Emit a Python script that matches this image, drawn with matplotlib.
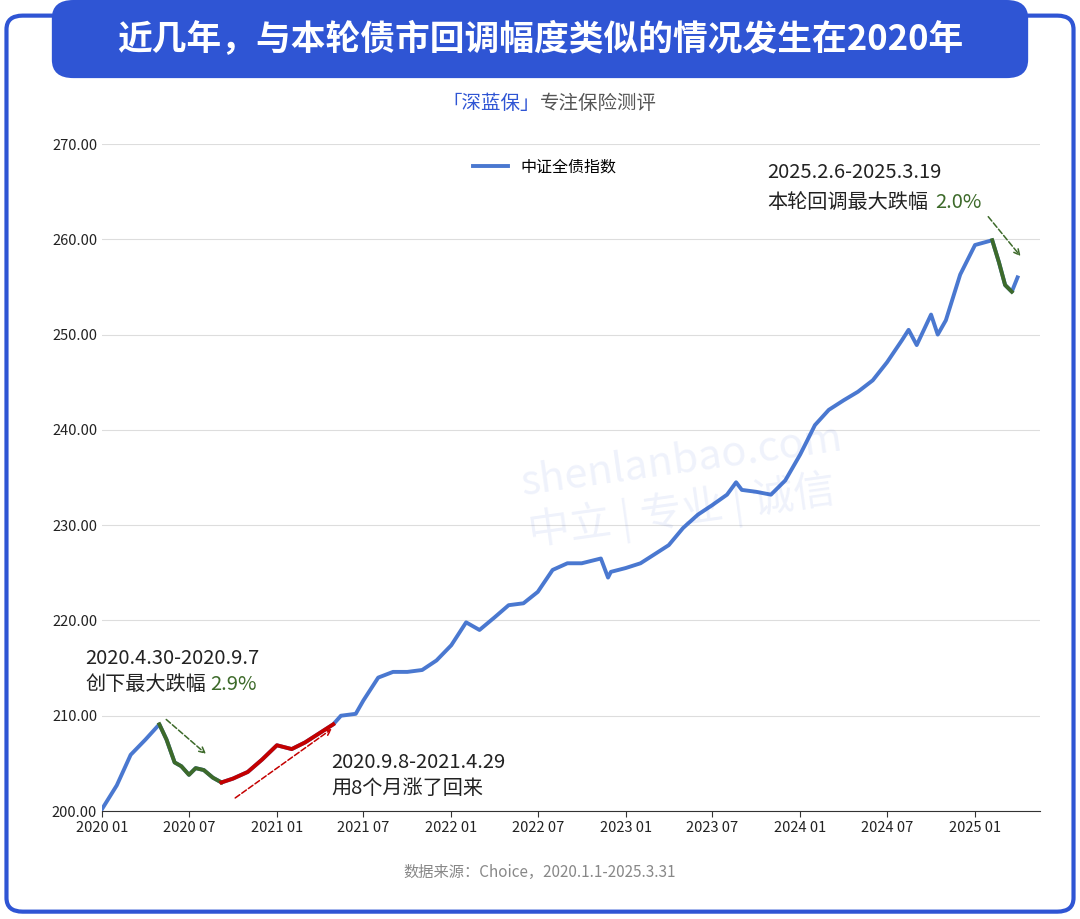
import pandas as pd
import matplotlib.pyplot as plt
import matplotlib.dates as mdates
from matplotlib.patches import FancyBboxPatch

plt.rcParams['font.family'] = 'Noto Sans CJK SC'

# 中证全债指数
dates = ['2020-01-01', '2020-02-01', '2020-03-01', '2020-04-01', '2020-04-30',
         '2020-05-15', '2020-06-01', '2020-06-15', '2020-07-01', '2020-07-15',
         '2020-08-01', '2020-08-20', '2020-09-07', '2020-10-01', '2020-11-01',
         '2020-12-01', '2021-01-01', '2021-02-01', '2021-03-01', '2021-04-29',
         '2021-05-15', '2021-06-15', '2021-07-01', '2021-08-01', '2021-09-01',
         '2021-10-01', '2021-11-01', '2021-12-01', '2022-01-01', '2022-02-01',
         '2022-03-01', '2022-04-01', '2022-05-01', '2022-06-01', '2022-07-01',
         '2022-08-01', '2022-09-01', '2022-10-01', '2022-11-10', '2022-11-25',
         '2022-12-01', '2023-01-01', '2023-02-01', '2023-03-01', '2023-04-01',
         '2023-05-01', '2023-06-01', '2023-07-01', '2023-08-01', '2023-08-20',
         '2023-09-01', '2023-10-01', '2023-11-01', '2023-12-01', '2024-01-01',
         '2024-02-01', '2024-03-01', '2024-04-01', '2024-05-01', '2024-06-01',
         '2024-07-01', '2024-08-01', '2024-08-15', '2024-09-01', '2024-10-01',
         '2024-10-15', '2024-11-01', '2024-12-01', '2025-01-01', '2025-02-06',
         '2025-02-20', '2025-03-05', '2025-03-19', '2025-03-31']
values = [200.2, 202.7, 205.9, 207.5, 209.1, 207.5, 205.1, 204.7, 203.8, 204.5,
          204.3, 203.5, 203.0, 203.4, 204.1, 205.4, 206.9, 206.5, 207.2, 209.1,
          210.0, 210.2, 211.6, 214.0, 214.6, 214.6, 214.8, 215.8, 217.4, 219.8,
          219.0, 220.3, 221.6, 221.8, 223.0, 225.3, 226.0, 226.0, 226.5, 224.5,
          225.1, 225.5, 226.0, 226.9, 227.9, 229.7, 231.1, 232.1, 233.2, 234.5,
          233.7, 233.5, 233.2, 234.7, 237.4, 240.5, 242.1, 243.1, 244.0, 245.2,
          247.1, 249.4, 250.5, 248.9, 252.1, 250.0, 251.5, 256.3, 259.4, 259.9,
          257.6, 255.2, 254.5, 256.0]

s = pd.Series(values, index=pd.to_datetime(dates))
drop1 = s['2020-04-30':'2020-09-07']
rebound = s['2020-09-07':'2021-04-29']
drop2 = s['2025-02-06':'2025-03-19']

BLUE = '#4a78d0'
GREEN = '#3d6a2a'
RED = '#c40000'

fig = plt.figure(figsize=(10.8, 9.19), dpi=100)

# 外框和标题
fig.patches.append(FancyBboxPatch((0.006, 0.008), 0.988, 0.975, boxstyle='round,pad=0,rounding_size=0.015',
                                  transform=fig.transFigure, fill=False, edgecolor='#2f55d4', linewidth=3))
fig.patches.append(FancyBboxPatch((0.048, 0.915), 0.904, 0.085, boxstyle='round,pad=0,rounding_size=0.02',
                                  transform=fig.transFigure, facecolor='#2f55d4', edgecolor='none'))
fig.text(0.5, 0.957, '近几年，与本轮债市回调幅度类似的情况发生在2020年', color='white',
         fontsize=25, fontweight='bold', ha='center', va='center')
fig.text(0.5, 0.887, '「深蓝保」', color='#2f55d4', fontsize=14, ha='right', va='center')
fig.text(0.5, 0.887, '专注保险测评', color='#555555', fontsize=14, ha='left', va='center')
fig.text(0.5, 0.046, '数据来源：Choice，2020.1.1-2025.3.31', color='#888888', fontsize=11, ha='center')

# 水印
fig.text(0.48, 0.47, 'shenlanbao.com\n中立 | 专业 | 诚信', color='#2f55d4', alpha=0.08,
         fontsize=30, rotation=8, ha='left', va='center')

ax = fig.add_axes([102 / 1080, 0.1175, 938 / 1080, 0.7258])
ax.plot(s.index, s.values, color=BLUE, lw=2.8, label='中证全债指数', zorder=3)
ax.plot(drop1.index, drop1.values, color=GREEN, lw=2.8, zorder=4)
ax.plot(rebound.index, rebound.values, color=RED, lw=2.8, zorder=4)
ax.plot(drop2.index, drop2.values, color=GREEN, lw=2.8, zorder=4)

ax.set_ylim(200, 270)
ax.set_xlim(pd.Timestamp('2020-01-01'), pd.Timestamp('2025-05-17'))
ax.set_yticks(range(200, 271, 10))
ax.yaxis.set_major_formatter(plt.FuncFormatter(lambda v, p: f'{v:.2f}'))
ax.xaxis.set_major_locator(mdates.MonthLocator(bymonth=[1, 7]))
ax.xaxis.set_major_formatter(mdates.DateFormatter('%Y %m'))
ax.tick_params(axis='both', labelsize=10.5, colors='#222222', length=0)
ax.tick_params(axis='x', length=4, color='#333333')
ax.grid(axis='y', color='#dddddd', lw=0.8)
for sp in ['top', 'right', 'left']:
    ax.spines[sp].set_visible(False)
ax.spines['bottom'].set_color('#333333')
ax.legend(loc='upper left', bbox_to_anchor=(0.38, 1.0), frameon=False, fontsize=11.5, handlelength=2.2)

arw = dict(arrowstyle='->', linestyle='--', lw=1.1)
ax.annotate('', xy=(pd.Timestamp('2020-08-10'), 205.8), xytext=(pd.Timestamp('2020-05-10'), 209.8),
            arrowprops=dict(arw, color=GREEN))
ax.annotate('', xy=(pd.Timestamp('2021-05-01'), 208.8), xytext=(pd.Timestamp('2020-10-01'), 201.2),
            arrowprops=dict(arw, color=RED))
ax.annotate('', xy=(pd.Timestamp('2025-04-10'), 258.0), xytext=(pd.Timestamp('2025-01-25'), 262.6),
            arrowprops=dict(arw, color=GREEN))


def px_text(x, y, txt, color='#222222'):
    fig.text(x / 1080, 1 - y / 919, txt, fontsize=14.5, color=color, ha='left', va='center')


px_text(85, 658, '2020.4.30-2020.9.7')
px_text(85, 685, '创下最大跌幅')
px_text(210, 685, '2.9%', GREEN)
px_text(331, 762, '2020.9.8-2021.4.29')
px_text(331, 789, '用8个月涨了回来')
px_text(767, 173, '2025.2.6-2025.3.19')
px_text(767, 202, '本轮回调最大跌幅')
px_text(935, 202, '2.0%', GREEN)

fig.savefig('out.png', dpi=100)
